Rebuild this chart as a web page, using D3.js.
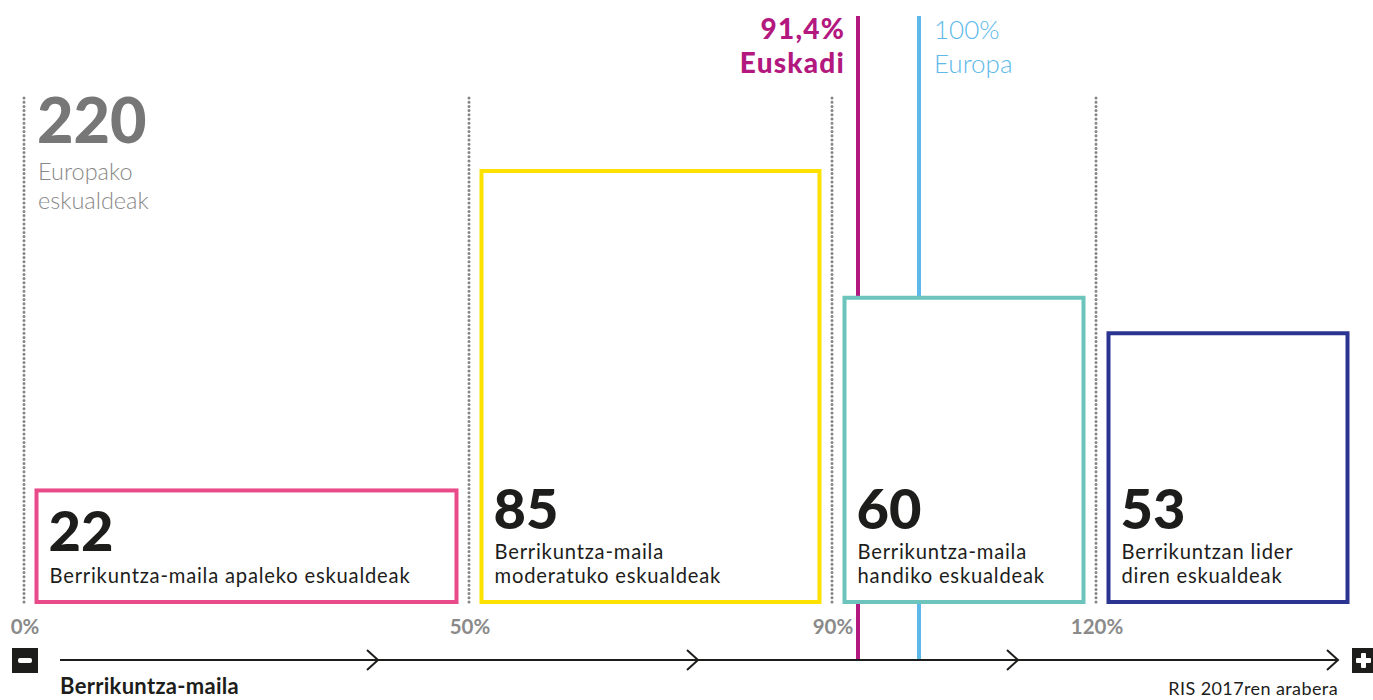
<!DOCTYPE html>
<html>
<head>
<meta charset="utf-8">
<script src="https://cdn.jsdelivr.net/npm/d3@7"></script>
<style>
  body { margin: 0; background: #fff; }
  svg { display: block; font-family: Lato, "Open Sans", sans-serif; }
</style>
</head>
<body>
<svg id="chart" width="1373" height="700"></svg>
<script>
// data
const groupLines = [
  ['Berrikuntza-maila apaleko eskualdeak'],
  ['Berrikuntza-maila', 'moderatuko eskualdeak'],
  ['Berrikuntza-maila', 'handiko eskualdeak'],
  ['Berrikuntzan lider', 'diren eskualdeak']
];
const regionCounts = [22, 85, 60, 53];
const bandEdges = [0, 50, 90, 120, 150];
const tickValues = [0, 50, 90, 120];
const tickLabels = ['0%', '50%', '90%', '120%'];
const groupColors = ['#e94a89', '#ffe100', '#6cc4bc', '#2b3591'];
const totalRegions = 220;
const markerValues = [91.4, 100];
const markerLabels = [['91,4%', 'Euskadi'], ['100%', 'Europa']];
const markerColors = ['#b3187f', '#5db9e9'];

const svg = d3.select('#chart');

// piecewise scale, infographic style (not to scale)
const x = d3.scaleLinear()
  .domain([0, 50, 90, 91.4, 100, 120, 150])
  .range([24, 469, 832, 858, 919, 1096, 1360]);

const baseY = 602;
const y = d3.scaleLinear().domain([0, 85]).range([baseY, 171]);

// dotted guides
svg.append('g')
  .selectAll('line')
  .data(tickValues)
  .join('line')
  .attr('x1', d => x(d)).attr('x2', d => x(d))
  .attr('y1', 98).attr('y2', 606)
  .attr('stroke', '#858585')
  .attr('stroke-width', 3)
  .attr('stroke-linecap', 'round')
  .attr('stroke-dasharray', '0 4.2');

// tick labels
svg.append('g')
  .selectAll('text')
  .data(tickValues)
  .join('text')
  .attr('x', d => x(d) + 1)
  .attr('y', 634)
  .attr('text-anchor', 'middle')
  .attr('font-size', 20.5)
  .attr('font-weight', 700)
  .attr('fill', '#8a8a8a')
  .text((d, i) => tickLabels[i]);

// marker lines (Euskadi / Europa)
svg.append('g')
  .selectAll('line')
  .data(markerValues)
  .join('line')
  .attr('x1', d => x(d)).attr('x2', d => x(d))
  .attr('y1', 16).attr('y2', 660)
  .attr('stroke', (d, i) => markerColors[i])
  .attr('stroke-width', 4);

const mk = svg.append('g')
  .selectAll('text')
  .data(markerValues)
  .join('text')
  .attr('x', (d, i) => i === 0 ? x(d) - 13 : x(d) + 15)
  .attr('text-anchor', (d, i) => i === 0 ? 'end' : 'start')
  .attr('font-size', (d, i) => i === 0 ? 28 : 26)
  .attr('font-weight', (d, i) => i === 0 ? 900 : 300)
  .attr('letter-spacing', (d, i) => i === 0 ? 1.2 : 0)
  .attr('fill', (d, i) => markerColors[i]);
mk.selectAll('tspan')
  .data((d, i) => markerLabels[i])
  .join('tspan')
  .attr('x', function () { return this.parentNode.getAttribute('x'); })
  .attr('y', (d, j) => 39 + j * 33.5)
  .text(d => d);

// total label
svg.append('text')
  .attr('x', 37).attr('y', 143)
  .attr('font-size', 63).attr('font-weight', 900)
  .attr('fill', '#777')
  .text(totalRegions);
svg.append('text')
  .attr('font-size', 23.5).attr('font-weight', 300)
  .attr('fill', '#888')
  .selectAll('tspan')
  .data(['Europako', 'eskualdeak'])
  .join('tspan')
  .attr('x', 38)
  .attr('y', (d, j) => 180 + j * 29)
  .text(d => d);

// boxes
const pad = 12.5;
const boxes = svg.append('g')
  .selectAll('g')
  .data(regionCounts)
  .join('g');

boxes.append('rect')
  .attr('x', (d, i) => x(bandEdges[i]) + pad)
  .attr('y', d => y(d))
  .attr('width', (d, i) => x(bandEdges[i + 1]) - x(bandEdges[i]) - 2 * pad)
  .attr('height', d => baseY - y(d))
  .attr('fill', '#fff')
  .attr('stroke', (d, i) => groupColors[i])
  .attr('stroke-width', 4);

boxes.append('text')
  .attr('x', (d, i) => x(bandEdges[i]) + pad + 12)
  .attr('y', (d, i) => groupLines[i].length === 1 ? 551 : 529)
  .attr('font-size', 56)
  .attr('font-weight', 900)
  .attr('fill', '#1d1d1b')
  .text(d => d);

boxes.append('text')
  .attr('font-size', 20.2)
  .attr('letter-spacing', 0.8)
  .attr('fill', '#1d1d1b')
  .selectAll('tspan')
  .data((d, i) => groupLines[i].map(t => ({ t, i })))
  .join('tspan')
  .attr('x', d => x(bandEdges[d.i]) + pad + 13)
  .attr('y', (d, j) => 583 - (groupLines[d.i].length - 1 - j) * 24.5)
  .text(d => d.t);

// bottom arrow axis
const ax = svg.append('g');
ax.append('line')
  .attr('x1', 60).attr('x2', 1338)
  .attr('y1', 660).attr('y2', 660)
  .attr('stroke', '#1d1d1b').attr('stroke-width', 2);
ax.selectAll('path')
  .data(d3.range(4).map(k => 1338 - k * 320))
  .join('path')
  .attr('d', d => `M${d - 11},${650} L${d},${660} L${d - 11},${670}`)
  .attr('fill', 'none')
  .attr('stroke', '#1d1d1b').attr('stroke-width', 2);

// minus / plus
ax.append('rect').attr('x', 12).attr('y', 648).attr('width', 26).attr('height', 25).attr('fill', '#1d1d1b');
ax.append('rect').attr('x', 18).attr('y', 658).attr('width', 14).attr('height', 5).attr('rx', 2).attr('fill', '#fff');
ax.append('rect').attr('x', 1352).attr('y', 648).attr('width', 24).attr('height', 25).attr('fill', '#1d1d1b');
ax.append('rect').attr('x', 1356).attr('y', 658).attr('width', 15).attr('height', 5).attr('rx', 1).attr('fill', '#fff');
ax.append('rect').attr('x', 1361).attr('y', 653).attr('width', 5).attr('height', 15).attr('rx', 1).attr('fill', '#fff');

svg.append('text')
  .attr('x', 60).attr('y', 694)
  .attr('font-size', 22).attr('font-weight', 700)
  .attr('letter-spacing', 0.3)
  .attr('fill', '#1d1d1b')
  .text('Berrikuntza-maila');
svg.append('text')
  .attr('x', 1338).attr('y', 695)
  .attr('text-anchor', 'end')
  .attr('font-size', 18)
  .attr('letter-spacing', 0.4)
  .attr('fill', '#1d1d1b')
  .text('RIS 2017ren arabera');
</script>
</body>
</html>
